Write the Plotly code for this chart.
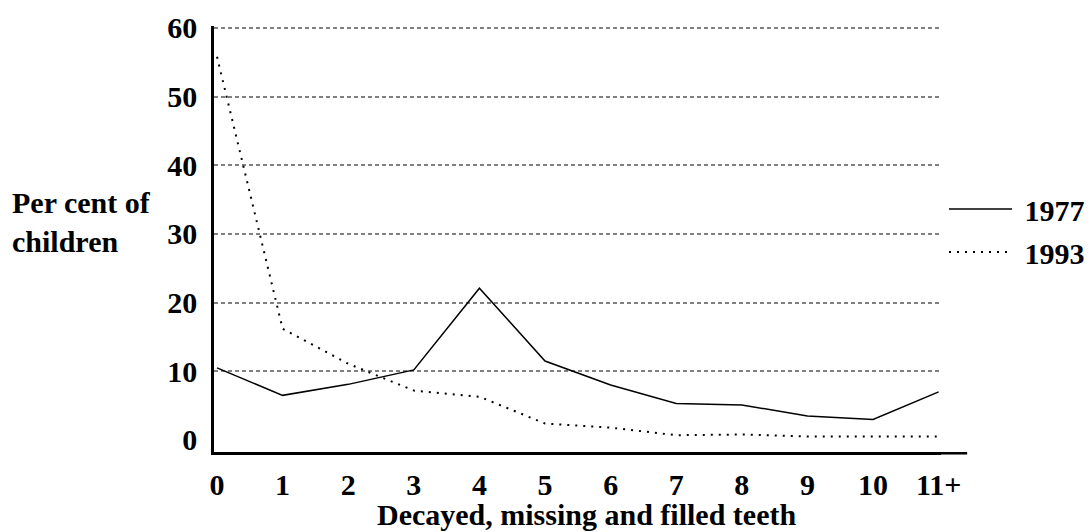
import plotly.graph_objects as go

# Zähne (DMF) Kategorien und Prozentwerte
teeth = ["0", "1", "2", "3", "4", "5", "6", "7", "8", "9", "10", "11+"]
pct_1977 = [10.5, 6.5, 8.1, 10.2, 22.1, 11.5, 8.0, 5.3, 5.1, 3.5, 3.0, 7.0]
pct_1993 = [55.8, 16.2, 11.1, 7.2, 6.3, 2.4, 1.8, 0.7, 0.8, 0.5, 0.5, 0.5]
y_ticks = [0, 10, 20, 30, 40, 50, 60]
grid_ticks = [10, 20, 30, 40, 50, 60]

FONT = "Liberation Serif, Times New Roman, serif"
FS = 30
NB = "\u00a0"

fig = go.Figure()
fig.add_trace(go.Scatter(
    x=teeth, y=pct_1977, mode="lines", name=NB + "1977", legendgroup="a",
    line=dict(color="black", width=1.5)
))
fig.add_trace(go.Scatter(
    x=teeth, y=pct_1993, mode="lines", name=NB + "1993", legendgroup="b",
    line=dict(color="black", width=2, dash="2px,6px")
))
# Dummy-Trace damit yaxis2 (nur Gitter) gezeichnet wird
fig.add_trace(go.Scatter(x=[teeth[0]], y=[None], yaxis="y2", showlegend=False,
                         hoverinfo="skip"))

fig.update_layout(
    width=1091, height=532,
    margin=dict(l=214, r=150, t=26, b=80, autoexpand=False),
    paper_bgcolor="white", plot_bgcolor="white",
    font=dict(family=FONT, size=FS, color="black", weight="bold"),
    legend=dict(
        x=1.0041, xanchor="left", y=0.52, yanchor="middle",
        itemwidth=63, font=dict(size=FS, family=FONT, weight="bold"),
        bgcolor="rgba(0,0,0,0)", traceorder="grouped", tracegroupgap=1
    ),
    xaxis=dict(
        type="category", range=[-0.046, 11.036],
        showgrid=False, zeroline=False,
        showline=True, linecolor="black", linewidth=2.5,
        ticks="", ticklabelstandoff=4,
    ),
    yaxis=dict(
        range=[-1.75, 60.29], tickvals=y_ticks,
        showgrid=False, zeroline=False,
        showline=True, linecolor="black", linewidth=2.5,
        ticks="", ticklabelstandoff=8,
    ),
    # nur Gitterlinien 10..60 (keine bei 0)
    yaxis2=dict(
        overlaying="y", matches="y", tickvals=grid_ticks,
        showgrid=True, gridcolor="#808080", gridwidth=2, griddash="4px,3px",
        showticklabels=False, zeroline=False, showline=False, ticks="",
    ),
    # x-Achsenlinie reicht etwas über das Gitter hinaus
    shapes=[
        dict(type="line", xref="paper", yref="paper",
             x0=1.0, x1=1.036, y0=-0.003, y1=-0.003,
             line=dict(color="black", width=2.5)),
    ],
    annotations=[
        dict(text="Per cent of<br>children", xref="paper", yref="paper",
             x=-0.2806, y=0.54, xanchor="left", yanchor="middle", align="left",
             showarrow=False, font=dict(size=FS, family=FONT, weight="bold")),
        dict(text="Decayed, missing and filled teeth", xref="paper", yref="paper",
             x=0.513, y=-0.1456, xanchor="center", yanchor="middle",
             showarrow=False, font=dict(size=FS, family=FONT, weight="bold")),
    ],
)

# body-margin entfernen, damit die Figur genau das Fenster füllt
fig.write_html("out.html", config={"displayModeBar": False},
               post_script="document.body.style.margin='0px';")
